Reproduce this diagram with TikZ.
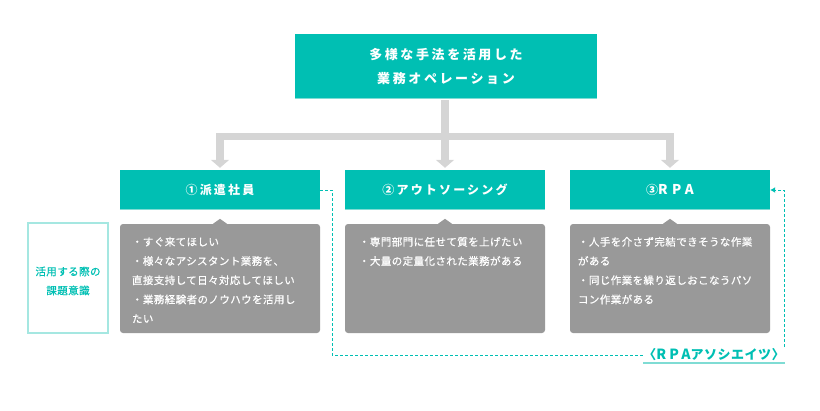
\documentclass[tikz,border=0pt]{standalone}
\usepackage{fontspec}
\setmainfont{Noto Sans CJK JP}
\newfontfamily\headfont[LetterSpace=20]{Noto Sans CJK JP}
\newfontfamily\stepfont[LetterSpace=18]{Noto Sans CJK JP}
\newfontfamily\notefont[LetterSpace=4,FakeBold=0.6]{Noto Sans CJK JP}
\newfontfamily\tagfont[LetterSpace=4]{Noto Sans CJK JP}
\usetikzlibrary{arrows.meta}
\definecolor{mainteal}{HTML}{00BFB3}
\definecolor{paleteal}{HTML}{7FDCD4}
\definecolor{frameteal}{HTML}{A5E7E1}
\definecolor{notegray}{HTML}{999999}
\definecolor{linkgray}{HTML}{D5D5D5}
\newcommand\notelines[2]{\parbox[t][83pt][t]{#1}{#2}}
\newcommand\spacedrpa[2]{{\fontsize{#1}{#1}\selectfont\addfontfeatures{LetterSpace=#2}RPA}}

\begin{document}
\begin{tikzpicture}[x=1pt,y=-1pt,
        headbox/.style={fill=mainteal, text=white, minimum width=302pt, minimum height=65pt, inner sep=0pt, align=center, font=\headfont\fontsize{13}{24}\selectfont\bfseries},
        stepbox/.style={fill=mainteal, text=white, minimum width=200pt, minimum height=40pt, inner sep=0pt, font=\stepfont\fontsize{12}{14}\selectfont\bfseries},
        notebox/.style={fill=notegray, text=white, rounded corners=3pt, minimum width=200pt, minimum height=109pt, inner ysep=13pt, font=\notefont\fontsize{10.5}{19.2}\selectfont},
        issuebox/.style={draw=frameteal, line width=1.5pt, text=mainteal, minimum width=80pt, minimum height=110pt, inner sep=0pt, font=\notefont\fontsize{10.5}{19}\selectfont},
        tagtext/.style={text=mainteal, inner xsep=0pt, inner ysep=2pt, font=\tagfont\fontsize{13}{15}\selectfont\bfseries},
        branchtip/.style={linkgray, line width=7.5pt, shorten >=2pt, -{Triangle[width=18pt,length=8pt]}},
        dashlink/.style={mainteal, line width=1pt, dash pattern=on 3pt off 2pt},
    ]
                \useasboundingbox (0,0) rectangle (820,410);

                \node[headbox] (top) at (446,66.5) {多様な手法を活用した\\業務オペレーション};

                \node[stepbox] (t1) at (220,190) {①派遣社員};
                \node[stepbox] (t2) at (445,190) {②アウトソーシング};
                \node[stepbox] (t3) at (670,190) {③\spacedrpa{13.5}{32}};

                \foreach \b in {top,t1,t2,t3}
                    \draw[paleteal, line width=1pt] ([yshift=.5pt]\b.south west) -- ([yshift=.5pt]\b.south east);

                \coordinate (fork) at (445,136.3);
                \draw[branchtip] ([yshift=-1pt]top.south -| t2.north) -- (t2.north);
                \draw[branchtip] (fork) -| (t1.north);
                \draw[branchtip] (fork) -| (t3.north);

                \node[notebox, inner xsep=12pt] (g1) at (220,278.5) {\notelines{176pt}{・すぐ来てほしい\\・様々なアシスタント業務を、\\直接支持して日々対応してほしい\\・業務経験者のノウハウを活用し\\たい}};
                \node[notebox, inner xsep=14pt] (g2) at (445,278.5) {\notelines{172pt}{・専門部門に任せて質を上げたい\\・大量の定量化された業務がある}};
                \node[notebox, inner xsep=8pt] (g3) at (670,278.5) {\notelines{184pt}{・人手を介さず完結できそうな作業\\がある\\・同じ作業を繰り返しおこなうパソ\\コン作業がある}};

                \foreach \g in {g1,g2,g3}
                    \fill[notegray] ([xshift=-7pt]\g.north) -- ([yshift=5pt]\g.north) -- ([xshift=7pt]\g.north) -- cycle;

                \node[issuebox] (issue) at (68,278) {\parbox[c][110pt][c]{80pt}{\centering\vspace*{6pt}活用する際の\\課題意識}};

                \node[tagtext] (tag) at (714,355) {〈\spacedrpa{14}{22}アソシエイツ〉};
                \draw[paleteal, line width=2pt] (tag.south west) -- (tag.south east);

                \draw[dashlink] (t1.east) -- ++(12,0) |- (tag.west);
                \draw[dashlink, -{Latex[length=5pt,width=6pt]}] (tag.north east) |- (t3.east);
            \end{tikzpicture}
\end{document}
